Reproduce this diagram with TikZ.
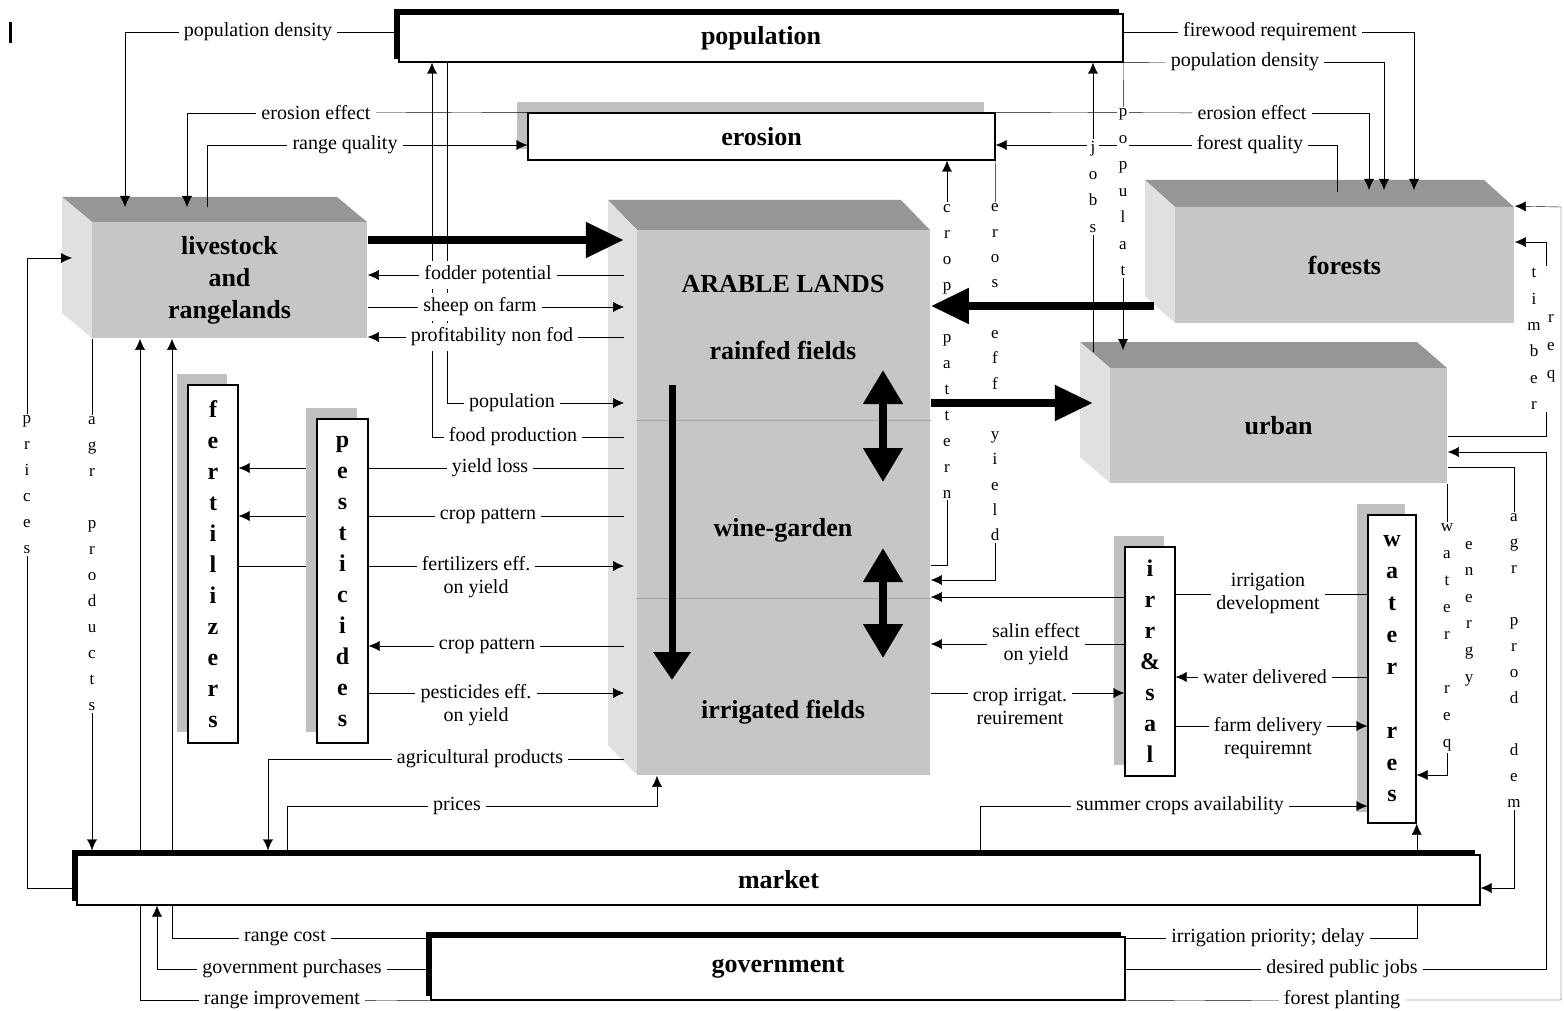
\documentclass[tikz,border=0pt]{standalone}
\usepackage{fontspec}
\setmainfont{Liberation Serif}
\usepackage{tikz}
\usetikzlibrary{arrows.meta,fit,shadows}

\definecolor{facegray}{RGB}{198,198,198}
\definecolor{topgray}{RGB}{150,150,150}
\definecolor{sidegray}{RGB}{224,224,224}
\definecolor{shadegray}{RGB}{192,192,192}

\pgfdeclarelayer{front}
\pgfsetlayers{main,front}

% solid block: name, front corners (x1,y1,x2,y2), depth (dx,dy), text
\newcommand\solidblock[8]{%
  \fill[topgray] (#2-#6,#3-#7) -- (#4-#6,#3-#7) -- (#4,#3) -- (#2,#3) -- cycle;
  \fill[sidegray] (#2-#6,#3-#7) -- (#2,#3) -- (#2,#5) -- (#2-#6,#5-#7) -- cycle;
  \node[face, fit={(#2,#3) (#4,#5)}] (#1) {};
  \node[title] (#1T) at (#1.center) {#8};
}

\begin{document}
\begin{tikzpicture}[
    x=1pt, y=-1pt,
    line width=1.7pt,
    lab/.style={fill=white, inner xsep=5pt, inner ysep=5pt, align=center,
        font=\fontsize{20}{23}\selectfont},
    vlab/.style={fill=white, inner sep=2pt, align=center,
        font=\fontsize{17}{26}\selectfont},
    title/.style={align=center, font=\fontsize{26}{32}\selectfont\bfseries},
    letters/.style={align=center, font=\fontsize{24}{31}\selectfont\bfseries},
    face/.style={fill=facegray, inner sep=0pt},
    flatbox/.style={draw, fill=white, line width=1.4pt, inner sep=0pt},
    shadebox/.style={flatbox, drop shadow={shadow xshift=-11pt, shadow yshift=11pt,
        fill=shadegray, opacity=1}},
    heavy/.style={line width=4pt},
    divider/.style={line width=1pt, draw=black!35},
    arr/.style={-{Latex[length=11pt,width=10pt]}},
    bigarrow/.style={line width=8pt, -{Triangle[length=38pt,width=34pt]}},
    twoway/.style={line width=8pt,
        {Triangle[length=34pt,width=38pt]}-{Triangle[length=34pt,width=38pt]}}
]
\useasboundingbox (0,0) rectangle (1564,1011);

\draw[line width=3pt] (10,22) -- (10,43);

% --- Blocks ---
\solidblock{live}{92}{222}{367}{338}{30}{25}{livestock\\and\\rangelands}
\solidblock{arable}{637}{230}{930}{775}{29}{30}{}
\solidblock{forests}{1175}{207}{1514}{323}{30}{27}{forests}
\solidblock{urban}{1110}{368}{1447}{483}{30}{26}{urban}

\draw[divider] (arable.west |- 0,420) -- (arable.east |- 0,420);
\draw[divider] (arable.west |- 0,598) -- (arable.east |- 0,598);
\node[title, font=\fontsize{26}{32}\selectfont\bfseries] (arT) at (783,284) {ARABLE LANDS};
\node[title] (rainT) at (783,350) {rainfed fields};
\node[title] (wineT) at (783,530) {wine-garden};
\node[title] (irrT) at (783,712) {irrigated fields};

\node[flatbox, title, minimum width=724pt, minimum height=48pt] (pop) at (761,38) {population};
\draw[heavy] ([shift={(-2pt,4pt)}]pop.south west) |- ([shift={(-5pt,2pt)}]pop.north east);
\node[shadebox, title, minimum width=467pt, minimum height=47pt] (ero) at (761.5,136.5) {erosion};
\node[shadebox, letters, minimum width=50pt, minimum height=358pt] (fert) at (213,564)
    {f\\e\\r\\t\\i\\l\\i\\z\\e\\r\\s};
\node[shadebox, letters, minimum width=50pt, minimum height=229pt] (irr) at (1150,661.5)
    {i\\r\\r\\\&\\s\\a\\l};
\node[shadebox, letters, font=\fontsize{24}{31.9}\selectfont\bfseries,
    minimum width=48pt, minimum height=308pt] (water) at (1392,669)
    {w\\a\\t\\e\\r\\~\\r\\e\\s};
\node[flatbox, title, minimum width=694pt, minimum height=63pt] (gov) at (778,968.5) {government};
\draw[heavy] ([shift={(-2pt,5pt)}]gov.south west) |- ([shift={(-5pt,2pt)}]gov.north east);

\coordinate (alf) at (624,0); % arable left face

% --- Labels ---
\begin{pgfonlayer}{front}
\node[lab] (pd1) at (258,32) {population density};
\node[lab] (ee1) at (316,113) {erosion effect};
\node[lab] (rq) at (345,145) {range quality};
\node[lab] (fo) at (488,275) {fodder potential};
\node[lab] (sh) at (480,307) {sheep on farm};
\node[lab] (pr) at (492,337) {profitability non fod};
\node[lab] (pl) at (512,403) {population};
\node[lab] (fp) at (513,437) {food production};
\node[lab] (yl) at (490,468) {yield loss};
\node[lab] (cp1) at (488,516) {crop pattern};
\node[lab] (fe) at (476,577) {fertilizers eff.\\on yield};
\node[lab] (cp2) at (487,646) {crop pattern};
\node[lab] (pe) at (476,705) {pesticides eff.\\on yield};
\node[lab] (ap) at (480,759) {agricultural products};
\node[lab] (pc) at (457,806) {prices};
\node[lab] (rc) at (285,938) {range cost};
\node[lab] (gp) at (292,969) {government purchases};
\node[lab] (ri) at (282,1000) {range improvement};
\node[lab] (fw) at (1270,32) {firewood requirement};
\node[lab] (pd2) at (1245,62) {population density};
\node[lab] (ee2) at (1252,113) {erosion effect};
\node[lab] (fq) at (1250,145) {forest quality};
\node[lab] (se) at (1036,644) {salin effect\\on yield};
\node[lab] (cri) at (1020,706) {crop irrigat.\\reuirement};
\node[lab] (id) at (1268,594) {irrigation\\development};
\node[lab] (wd) at (1265,677) {water delivered};
\node[lab] (fd) at (1268,738) {farm delivery\\requiremnt};
\node[lab] (sc) at (1180,806) {summer crops availability};
\node[lab] (ip) at (1268,938) {irrigation priority; delay};
\node[lab] (dj) at (1342,969) {desired public jobs};
\node[lab] (fpl) at (1342,1000) {forest planting};

\node[vlab] (vpr) at (27,485) {p\\r\\i\\c\\e\\s};
\node[vlab] (vap) at (92,564) {a\\g\\r\\~\\p\\r\\o\\d\\u\\c\\t\\s};
\node[vlab] (vcp) at (947,351) {c\\r\\o\\p\\~\\p\\a\\t\\t\\e\\r\\n};
\node[vlab, font=\fontsize{17}{25.3}\selectfont] (vee) at (995,372.5)
    {e\\r\\o\\s\\~\\e\\f\\f\\~\\y\\i\\e\\l\\d};
\node[vlab, font=\fontsize{17}{26.7}\selectfont] (vjb) at (1093,187) {j\\o\\b\\s};
\node[vlab, font=\fontsize{17}{26.5}\selectfont] (vpo) at (1123,192.5) {p\\o\\p\\u\\l\\a\\t};
\node[vlab, font=\fontsize{17}{26.9}\selectfont] (vwr) at (1447,637.5) {w\\a\\t\\e\\r\\~\\r\\e\\q};
\node[vlab, font=\fontsize{17}{26.6}\selectfont] (ven) at (1469,613.5) {e\\n\\e\\r\\g\\y};
\node[vlab] (vad) at (1514,661) {a\\g\\r\\~\\p\\r\\o\\d\\~\\d\\e\\m};
\node[vlab, font=\fontsize{17}{26.4}\selectfont] (vti) at (1534,339) {t\\i\\m\\b\\e\\r};
\node[vlab, font=\fontsize{17}{28}\selectfont] (vrq) at (1551,348) {r\\e\\q};
\end{pgfonlayer}

% --- Connections behind pesticides and market ---
\draw (alf |- yl) -- (yl);
\draw[arr] (yl) -- (yl -| fert.east);
\draw (alf |- cp1) -- (cp1);
\draw[arr] (cp1) -- (cp1 -| fert.east);
\draw (fert.east |- 0,566) -- (fe.west |- 0,566);
\draw[arr] (fe.east |- 0,566) -- (alf |- 0,566);
\draw (gov.west |- rc) -- (rc);
\draw[arr] (rc) -| (live.south -| 172,0);
\draw (gov.south west) -- (ri);
\draw[arr] (ri) -| (live.south -| 140,0);
\draw (gov.east |- ip) -- (ip);
\draw[arr] (ip) -| (water.south east);

\node[shadebox, letters, minimum width=51pt, minimum height=324pt] (pest) at (342.5,581)
    {p\\e\\s\\t\\i\\c\\i\\d\\e\\s};
\node[flatbox, title, minimum width=1403pt, minimum height=50pt] (mkt) at (778.5,880) {market};
\draw[heavy] ([shift={(-2pt,5pt)}]mkt.south west) |- ([shift={(-6pt,2pt)}]mkt.north east);

% --- Left: livestock ---
\draw (pop.west |- pd1) -- (pd1);
\draw[arr] (pd1) -| (125,207);
\draw (ero.north west) -- (ee1);
\draw[arr] (ee1) -| (187,207);
\draw (207,207) |- (rq);
\draw[arr] (rq) -- (rq -| ero.west);
\draw (pop.south -| 447,0) |- (pl);
\draw[arr] (pl) -- (alf |- pl);
\draw (alf |- fp) -- (fp);
\draw[arr] (fp) -| (pop.south -| 432,0);
\draw (alf |- fo) -- (fo);
\draw[arr] (fo) -- (fo -| live.east);
\draw (live.east |- sh) -- (sh);
\draw[arr] (sh) -- (alf |- sh);
\draw (alf |- pr) -- (pr);
\draw[arr] (pr) -- (pr -| live.east);

% --- Pesticides ---
\draw (alf |- cp2) -- (cp2);
\draw[arr] (cp2) -- (cp2 -| pest.east);
\draw (pest.east |- 0,693) -- (pe.west |- 0,693);
\draw[arr] (pe.east |- 0,693) -- (alf |- 0,693);

% --- Market ---
\draw (alf |- ap) -- (ap);
\draw[arr, shorten >=4pt] (ap) -| (mkt.north -| 268,0);
\draw (mkt.north -| 287,0) |- (pc);
\draw[arr] (pc) -| (arable.south -| 657,0);
\draw (mkt.west |- 0,888) -| (vpr);
\draw[arr] (vpr) |- (72,258);
\draw (live.south -| vap) -- (vap);
\draw[arr, shorten >=4pt] (vap) -- (vap |- mkt.north);
\draw (gov.west |- gp) -- (gp);
\draw[arr] (gp) -| (mkt.south -| 157,0);

% --- Right of arable ---
\draw (arable.east |- 0,565) -| (vcp);
\draw[arr] (vcp) -- (vcp |- ero.south);
\draw (ero.south east) -- (vee);
\draw[arr] (vee) |- (arable.east |- 0,580);
\draw[arr] (irr.west |- 0,597) -- (arable.east |- 0,597);
\draw (irr.west |- se) -- (se);
\draw[arr] (se) -- (se -| arable.east);
\draw (arable.east |- 0,693) -- (cri.west |- 0,693);
\draw[arr] (cri.east |- 0,693) -- (irr.west |- 0,693);

% --- Irrigation and water ---
\draw (irr.east |- id) -- (id);
\draw (id) -- (id -| water.west);
\draw (water.west |- wd) -- (wd);
\draw[arr] (wd) -- (wd -| irr.east);
\draw (irr.east |- 0,726) -- (fd.west |- 0,726);
\draw[arr] (fd.east |- 0,726) -- (water.west |- 0,726);
\draw (mkt.north -| 980,0) |- (sc);
\draw[arr] (sc) -- (sc -| water.west);

% --- Urban ---
\draw (urban.south -| vwr) -- (vwr);
\draw[arr] (vwr) |- (water.east |- 0,775);
\draw (urban.east |- 0,467) -| (vad);
\draw[arr] (vad) |- (mkt.east |- 0,888);
\draw (urban.east |- 0,436) -| (vti.south -| 1546,0);
\draw[arr] (vti.north -| 1546,0) |- (forests.east |- 0,242);
\draw (gov.east |- dj) -- (dj);
\draw[arr] (dj) -| (1546,452) -- (urban.east |- 0,452);
\draw (gov.south east) -- (fpl);
\draw[arr] (fpl) -| (1561,207) -- (forests.north east);

% --- Top right: population, forests ---
\draw (pop.east |- fw) -- (fw);
\draw[arr] (fw) -| (1414,190);
\draw (pop.south east) -- (pd2);
\draw[arr] (pd2) -| (1384,190);
\draw (ero.north east) -- (ee2);
\draw[arr] (ee2) -| (1369,190);
\draw (1337,192) |- (fq);
\draw[arr] (fq) -- (fq -| ero.east);
\draw (vjb |- 0,352) -- (vjb);
\draw[arr] (vjb) -- (vjb |- pop.south);
\draw (pop.north east) -- (vpo);
\draw[arr] (vpo) -- (vpo |- 0,350);

% --- Land flows ---
\begin{pgfonlayer}{front}
\draw[bigarrow] (live.east |- 0,240) -- ++(256,0);
\draw[bigarrow] (forests.west |- 0,306) ++(-20,0) -- (arable.east |- 0,306);
\draw[bigarrow] (arable.east |- 0,403) -- ++(162,0);
\draw[line width=7pt, -{Triangle[length=28pt,width=36pt]}] (672,385) -- (672,680);
\draw[twoway] (883,370) -- (883,482);
\draw[twoway] (883,548) -- (883,658);
\end{pgfonlayer}

\end{tikzpicture}
\end{document}
